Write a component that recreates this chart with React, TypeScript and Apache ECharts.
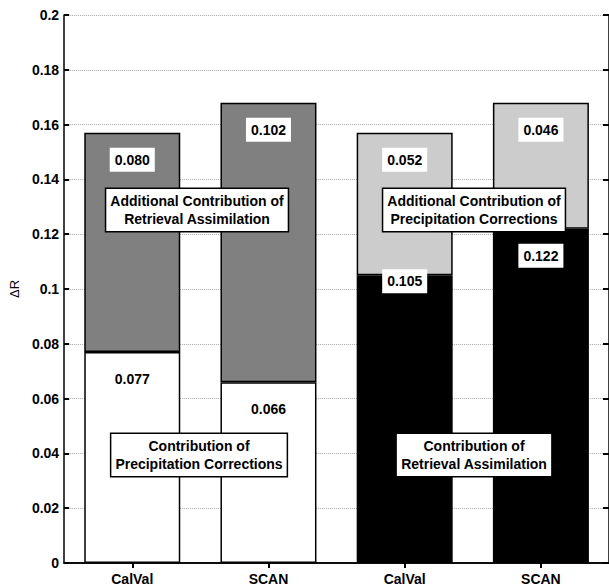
import React, { useEffect, useRef } from "react";
import * as echarts from "echarts";

// Four stacked bars: two catchment datasets under two decompositions.
const categories = ["CalVal", "SCAN", "CalVal", "SCAN"];
const baseValues = [0.077, 0.066, 0.105, 0.122];
const addedValues = [0.08, 0.102, 0.052, 0.046];
const baseColors = ["#ffffff", "#ffffff", "#000000", "#000000"];
const addedColors = ["#808080", "#808080", "#cccccc", "#cccccc"];

const yMin = 0;
const yMax = 0.2;
const yStep = 0.02;

const boxNotes = [
  { text: "Additional Contribution of\nRetrieval Assimilation", x: 197, y: 210 },
  { text: "Additional Contribution of\nPrecipitation Corrections", x: 474, y: 210 },
  { text: "Contribution of\nPrecipitation Corrections", x: 199, y: 455 },
  { text: "Contribution of\nRetrieval Assimilation", x: 474, y: 455 },
];

const FONT = "'Liberation Sans', Arial, Helvetica, sans-serif";

export default function App() {
  const ref = useRef<HTMLDivElement>(null);

  useEffect(() => {
    document.body.style.margin = "0";
    const chart = echarts.init(ref.current!, null, { renderer: "svg" });

    const valueLabel = {
      show: true,
      position: "insideTop",
      distance: 15,
      formatter: (p: any) => Number(p.value).toFixed(3),
      backgroundColor: "#ffffff",
      padding: [5, 5, 5, 5],
      fontFamily: FONT,
      fontWeight: "bold",
      fontSize: 14,
      color: "#000",
    };

    // the third bar's lower label sits higher, straddling the segment edge
    const baseLabelOffsets: Record<number, number[]> = { 2: [0, -21] };

    const tickStyle = { color: "#000", width: 2 };

    chart.setOption({
      animation: false,
      backgroundColor: "#ffffff",
      grid: { left: 62, right: -2, top: 15, bottom: 20 },
      xAxis: [
        {
          type: "category",
          data: categories.map((_, i) => String(i)),
          position: "bottom",
          axisLine: { lineStyle: { color: "#000", width: 1.5 } },
          axisTick: { show: false },
          axisLabel: {
            formatter: (v: string) => categories[Number(v)],
            fontFamily: FONT,
            fontWeight: "bold",
            fontSize: 14,
            color: "#000",
            margin: 9,
          },
        },
        {
          type: "category",
          data: categories.map((_, i) => String(i)),
          position: "top",
          axisLine: { lineStyle: { color: "#000", width: 1.5 } },
          axisTick: { show: true, inside: true, alignWithLabel: true, interval: 0, length: 5, lineStyle: tickStyle },
          axisLabel: { show: false },
        },
      ],
      yAxis: [
        {
          type: "value",
          min: yMin,
          max: yMax,
          interval: yStep,
          name: "ΔR",
          nameLocation: "middle",
          nameGap: 38,
          nameTextStyle: { fontFamily: FONT, fontSize: 13, color: "#000000" },
          axisLine: { show: true, lineStyle: { color: "#000", width: 1.5 } },
          axisTick: { show: true, inside: true, length: 5, lineStyle: tickStyle },
          axisLabel: {
            formatter: (v: number) => String(parseFloat(v.toFixed(2))),
            fontFamily: FONT,
            fontWeight: "bold",
            fontSize: 14,
            color: "#000",
            margin: 5,
          },
          splitLine: { show: true, lineStyle: { type: "dotted", color: "#aaaaaa", width: 1 } },
        },
        {
          type: "value",
          position: "right",
          min: yMin,
          max: yMax,
          interval: yStep,
          axisLine: { show: true, lineStyle: { color: "#000", width: 1.5 } },
          axisTick: { show: true, inside: true, length: 6, lineStyle: tickStyle },
          axisLabel: { show: false },
          splitLine: { show: false },
        },
      ],
      series: [
        {
          type: "bar",
          stack: "total",
          barWidth: 96,
          data: baseValues.map((v, i) => ({
            value: v,
            itemStyle: { color: baseColors[i] },
            ...(baseLabelOffsets[i] ? { label: { offset: baseLabelOffsets[i] } } : {}),
          })),
          itemStyle: { borderColor: "#000", borderWidth: 1.5 },
          label: valueLabel,
        },
        {
          type: "bar",
          stack: "total",
          barWidth: 96,
          data: addedValues.map((v, i) => ({ value: v, itemStyle: { color: addedColors[i] } })),
          itemStyle: { borderColor: "#000", borderWidth: 1.5 },
          label: valueLabel,
        },
      ],
      graphic: boxNotes.map((n) => ({
        type: "text",
        x: n.x,
        y: n.y,
        z: 100,
        style: {
          text: n.text,
          font: `bold 14px ${FONT}`,
          fill: "#000",
          align: "center",
          verticalAlign: "middle",
          lineHeight: 18,
          backgroundColor: "#ffffff",
          borderColor: "#000",
          borderWidth: 1.5,
          padding: [3, 4, 3, 4],
        },
      })),
    });

    return () => chart.dispose();
  }, []);

  return <div ref={ref} style={{ width: 609, height: 586 }} />;
}
